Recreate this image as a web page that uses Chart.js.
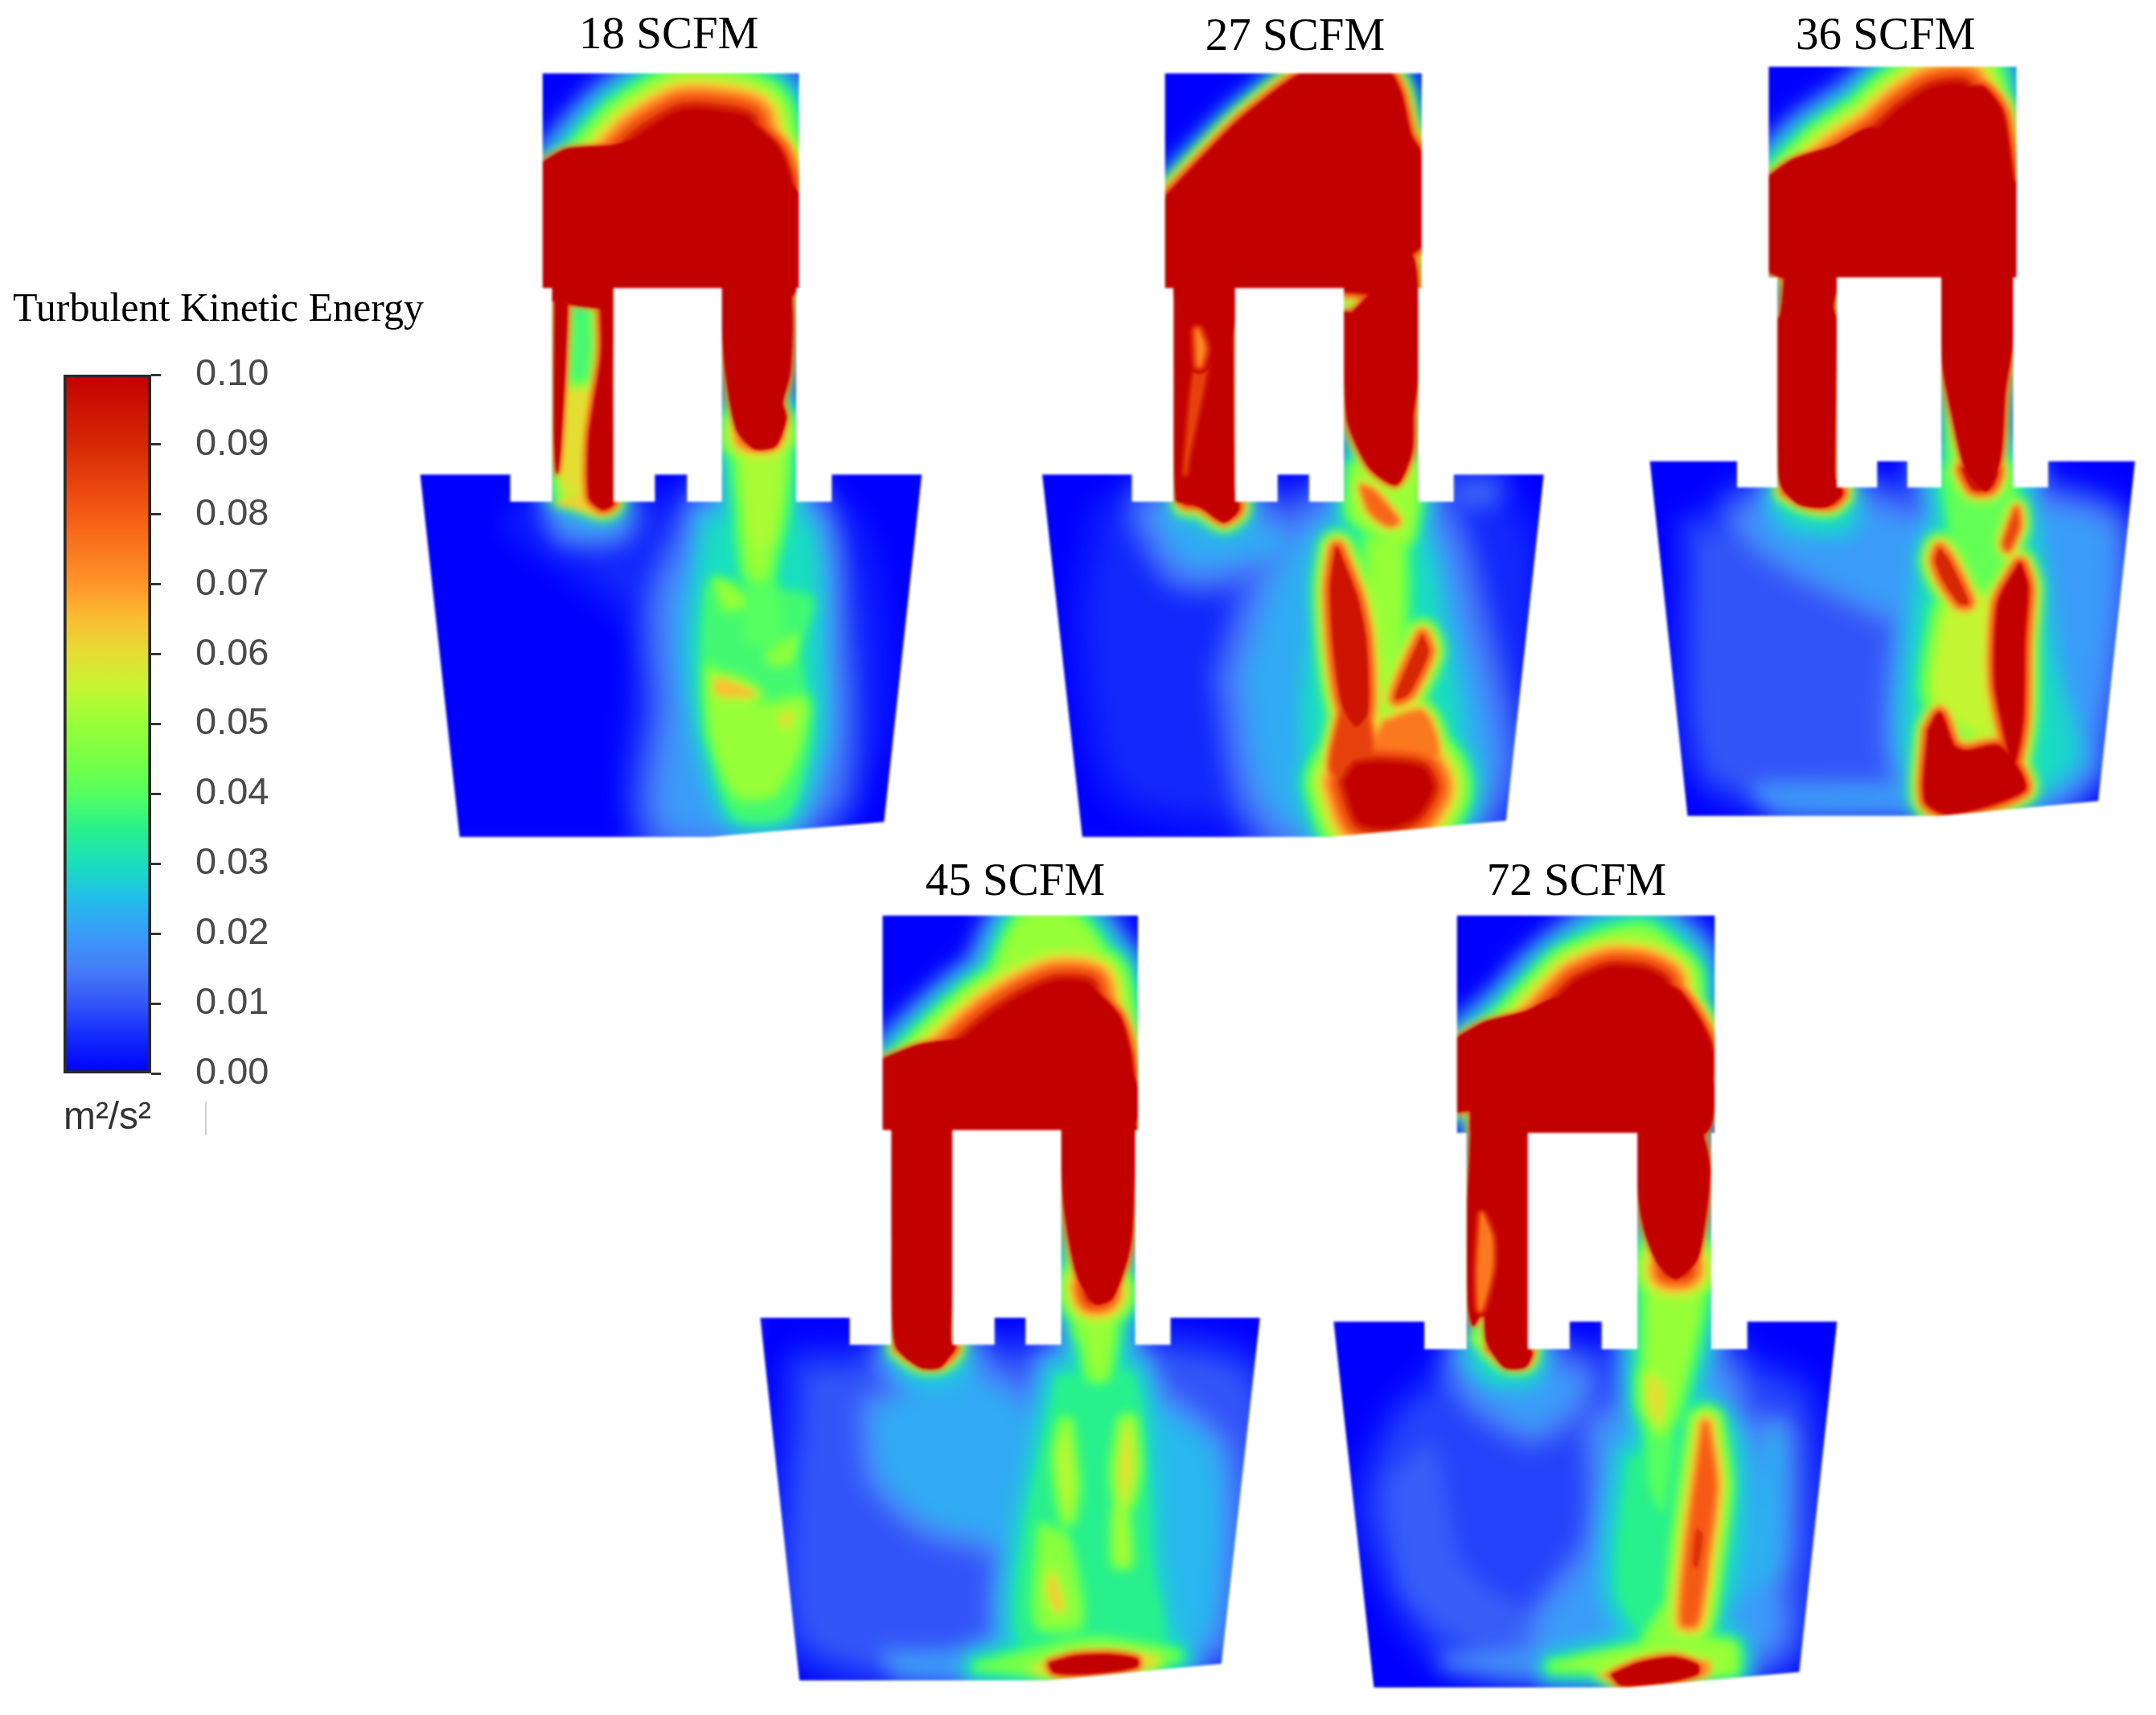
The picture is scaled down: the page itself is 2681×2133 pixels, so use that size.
<!DOCTYPE html>
<html>
<head>
<meta charset="utf-8">
<title>Turbulent Kinetic Energy</title>
<script src="https://cdn.jsdelivr.net/npm/chart.js@4"></script>
<style>
    body { margin: 0; background: #fff; }
    canvas { position: absolute; }
    #strayLine { position: absolute; left: 255px; top: 1370px; width: 2px; height: 42px; background: #d4d4d4; }
</style>
</head>
<body>
<canvas id="scaleBar" width="543" height="1110" style="left:0;top:340px"></canvas>
<canvas id="panel18" width="680" height="1060" style="left:500px;top:0"></canvas>
<canvas id="panel27" width="680" height="1060" style="left:1270px;top:0"></canvas>
<canvas id="panel36" width="651" height="1040" style="left:2030px;top:0"></canvas>
<canvas id="panel45" width="670" height="1073" style="left:930px;top:1060px"></canvas>
<canvas id="panel72" width="670" height="1073" style="left:1640px;top:1060px"></canvas>
<div id="strayLine"></div>
<script>
// colour scale
const barTicks = [0, 0.01, 0.02, 0.03, 0.04, 0.05, 0.06, 0.07, 0.08, 0.09, 0.10];
const stopValues = [0, 0.005, 0.01, 0.015, 0.02, 0.025, 0.03, 0.035, 0.04, 0.045, 0.05, 0.055, 0.06, 0.065, 0.07, 0.08, 0.09, 0.10];
const stopColors = [
    [0, 0, 255], [18, 40, 252], [50, 85, 248], [70, 125, 248], [58, 155, 248], [35, 190, 235],
    [25, 222, 190], [40, 240, 140], [85, 255, 95], [120, 255, 70], [150, 255, 55], [195, 245, 50],
    [228, 222, 50], [250, 190, 50], [255, 150, 40], [245, 90, 20], [215, 40, 5], [195, 0, 0]
];
const flowRates = ["18 SCFM", "27 SCFM", "36 SCFM", "45 SCFM", "72 SCFM"];

// geometry and fields below are read from the picture, in a 1568 x 1568 frame per panel
// field entry = [peak value, distance in px over which it falls to zero, outline x,y,...]
const domain18 = [403,135, 1138,135, 1138,530, 1130,530, 1130,923, 1232,923, 1232,873, 1490,873, 1382,1512, 880,1540, 165,1540, 52,873, 310,873, 310,923, 430,923, 430,530, 403,530];
const hole18 = [606,530, 917,530, 917,923, 817,923, 817,873, 725,873, 725,923, 606,923];
const field18 = [
    [0.005, 60, [350,960, 1250,960, 1300,1400, 700,1500, 700,1150]],
    [0.02, 70, [900,940, 1130,940, 1190,1100, 1220,1300, 1200,1450, 1100,1510, 770,1510, 790,1300, 780,1100]],
    [0.02, 45, [450,945, 630,945, 610,975, 480,975]],
    [0.03, 60, [880,960, 1150,960, 1190,1200, 1170,1400, 900,1400, 830,1200]],
    [0.038, 50, [870,1080, 1170,1100, 1140,1200, 1170,1350, 1100,1500, 950,1500, 860,1300]],
    [0.05, 45, [880,1230, 1010,1300, 1150,1290, 1130,1380, 1060,1460, 960,1460, 890,1350]],
    [0.05, 35, [900,1070, 945,1080, 980,1110, 930,1120]],
    [0.048, 28, [1050,1200, 1130,1170, 1110,1220, 1050,1220]],
    [0.064, 40, [900,1250, 950,1258, 1010,1278, 950,1280, 900,1275]],
    [0.06, 35, [1085,1315, 1120,1312, 1110,1335, 1085,1335]],
    [0.05, 55, [980,960, 1060,960, 1040,1060, 1000,1060]],
    [0.04, 45, [960,880, 1090,880, 1070,1060, 1090,1180, 980,1180, 1000,1050]],
    [0.052, 55, [965,800, 1085,800, 1060,1000, 1000,1000]],
    [0.062, 12, [440,925, 520,912, 570,950, 500,935]],
    [0.06, 38, [480,720, 530,720, 510,900, 460,900]],
    [0.038, 30, [490,580, 555,580, 560,720, 480,720]],
    [0.1, 12, [440,530, 470,530, 468,640, 455,800, 445,870, 438,800]],
    [0.1, 25, [570,530, 604,530, 600,700, 603,925, 575,935, 540,915, 540,800, 575,650]],
    [0.1, 95, [450,420, 560,335, 670,255, 800,205, 900,205, 1000,225, 1000,500, 600,500]],
    [0.1, 50, [1000,225, 1080,275, 1115,340, 1125,420, 1100,500, 1000,500]],
    [0.1, 8, [395,302, 470,275, 600,268, 700,255, 800,300, 800,545, 470,548, 395,545]],
    [0.1, 5, [395,340, 1115,340, 1115,545, 395,545]],
    [0.1, 10, [917,500, 1128,400, 1115,500, 1118,600, 1110,690, 1090,740, 1100,770, 1070,820, 1010,825, 960,790, 930,690, 917,590]],
    [0.1, 65, [1000,790, 1045,790, 1045,800, 1000,800]]
];
const dips18 = [];

const domain27 = [412,135, 1148,135, 1148,530, 1138,530, 1138,923, 1240,923, 1240,873, 1498,873, 1390,1510, 880,1540, 175,1540, 60,873, 317,873, 317,923, 436,923, 436,530, 412,530];
const hole27 = [613,530, 925,530, 925,923, 825,923, 825,873, 735,873, 735,923, 613,923];
const field27 = [
    [0.005, 60, [250,950, 1400,950, 1350,1450, 800,1500, 300,1450, 200,1150]],
    [0.012, 40, [1260,895, 1350,895, 1340,920, 1270,920]],
    [0.022, 75, [400,950, 640,960, 750,1000, 650,1020, 480,1030]],
    [0.022, 80, [650,1250, 750,1050, 880,960, 1150,960, 1250,1150, 1330,1400, 1250,1500, 800,1520, 700,1450]],
    [0.03, 60, [880,1000, 1130,980, 1200,1150, 1240,1400, 830,1400]],
    [0.05, 60, [1000,1000, 1080,1000, 1070,1250, 1020,1250]],
    [0.05, 40, [950,860, 1130,860, 1130,930, 1100,1000, 950,950]],
    [0.075, 35, [1040,1330, 1150,1310, 1190,1390, 1000,1400]],
    [0.085, 30, [920,1300, 990,1310, 1000,1420, 890,1420]],
    [0.078, 30, [975,895, 1010,905, 1080,960, 1050,965, 1000,940]],
    [0.095, 40, [905,1010, 960,1100, 985,1180, 990,1310, 960,1335, 925,1300, 900,1200, 890,1080]],
    [0.09, 40, [1150,1170, 1165,1200, 1110,1275, 1075,1285, 1100,1240]],
    [0.1, 85, [930,1440, 960,1410, 1050,1405, 1150,1415, 1175,1450, 1130,1500, 1050,1520, 970,1510]],
    [0.02, 70, [440,950, 650,950, 620,1000, 480,1000]],
    [0.1, 28, [470,925, 520,930, 580,955, 620,935, 600,900, 480,900]],
    [0.1, 10, [440,530, 610,530, 606,620, 610,900, 620,940, 580,960, 520,935, 480,925, 445,920, 440,700]],
    [0.1, 28, [404,370, 500,305, 640,215, 840,125, 1040,125, 1085,170, 1115,250, 1155,295, 1155,445, 1115,470, 1115,540, 925,535, 404,535]],
    [0.1, 16, [925,575, 950,575, 1115,470, 1135,540, 1135,700, 1122,760, 1118,830, 1075,890, 1000,860, 940,780, 928,700]]
];
const dips27 = [
    [0.085, 8, [505,660, 530,660, 520,710, 480,830, 470,870, 490,720]],
    [0.072, 12, [505,610, 522,640, 510,670]]
];

const domain36 = [408,125, 1150,125, 1150,520, 1140,520, 1140,914, 1245,914, 1245,865, 1505,865, 1395,1502, 920,1530, 165,1530, 52,865, 313,865, 313,914, 434,914, 434,520, 408,520];
const hole36 = [612,520, 925,520, 925,914, 823,914, 823,865, 733,865, 733,914, 612,914];
const field36 = [
    [0.01, 50, [200,1000, 850,1130, 850,1450, 250,1450]],
    [0.02, 70, [350,980, 650,960, 850,1000, 850,1150, 600,1090, 430,1030]],
    [0.02, 35, [380,1480, 800,1480, 850,1510, 450,1510]],
    [0.02, 55, [1210,950, 1420,1000, 1350,1400, 1230,1300]],
    [0.028, 60, [1230,1200, 1330,1420, 1200,1480]],
    [0.03, 60, [890,1000, 1160,950, 1230,1150, 1260,1450, 850,1450, 850,1150]],
    [0.042, 55, [930,880, 1130,880, 1120,1100, 1000,1130]],
    [0.045, 20, [935,700, 990,800, 1060,900, 960,900]],
    [0.055, 60, [930,1150, 1060,1120, 1060,1380, 960,1340, 900,1300]],
    [0.09, 38, [920,1030, 945,1050, 1005,1130, 980,1130, 930,1085, 910,1050]],
    [0.085, 30, [1150,955, 1155,985, 1125,1030, 1115,1020]],
    [0.1, 35, [1160,1060, 1180,1100, 1170,1200, 1165,1350, 1140,1430, 1120,1380, 1090,1280, 1100,1130]],
    [0.1, 32, [890,1370, 920,1340, 960,1400, 1000,1410, 1090,1400, 1130,1420, 1170,1480, 950,1525, 880,1500]],
    [0.03, 60, [430,950, 650,950, 640,990, 480,985]],
    [0.1, 28, [460,920, 520,940, 590,945, 625,925, 600,900, 480,900]],
    [0.1, 10, [445,510, 455,520, 445,590, 436,600, 438,880, 450,915, 500,945, 580,950, 625,925, 606,905, 610,600, 600,575, 610,522]],
    [0.1, 12, [400,335, 480,300, 600,275, 720,240, 850,300, 700,522, 400,505]],
    [0.1, 85, [440,400, 600,300, 730,245, 800,205, 900,165, 1000,165, 1000,500, 800,520]],
    [0.1, 35, [1000,165, 1050,165, 1105,210, 1130,300, 1148,400, 1155,520, 1000,520]],
    [0.1, 5, [400,340, 1148,340, 1148,522, 400,505]],
    [0.1, 14, [925,525, 1140,520, 1138,640, 1115,730, 1100,860, 1060,920, 1000,880, 960,780, 930,680]],
    [0.095, 35, [990,880, 1090,880, 1070,915, 1020,915]]
];
const dips36 = [];

const domain45 = [392,115, 1135,115, 1135,505, 1127,505, 1127,895, 1230,895, 1230,846, 1490,846, 1378,1475, 870,1505, 150,1505, 36,846, 296,846, 296,895, 417,895, 417,505, 392,505];
const hole45 = [595,505, 912,505, 912,895, 808,895, 808,846, 718,846, 718,895, 595,895];
const field45 = [
    [0.01, 60, [180,950, 1420,950, 1350,1440, 200,1440]],
    [0.022, 75, [380,1020, 640,960, 800,1030, 850,1300, 700,1240, 530,1210, 400,1130]],
    [0.02, 30, [400,1460, 800,1460, 800,1490, 450,1490]],
    [0.024, 70, [1170,1000, 1350,1100, 1330,1420, 1200,1400]],
    [0.035, 60, [900,950, 1120,950, 1180,1300, 1200,1440, 800,1440, 800,1250]],
    [0.054, 50, [925,1040, 945,1150, 930,1210, 905,1100]],
    [0.06, 50, [1105,1040, 1115,1120, 1095,1180, 1085,1120]],
    [0.052, 45, [1090,1170, 1105,1290, 1075,1290, 1075,1200]],
    [0.062, 45, [885,1310, 915,1370, 900,1380, 875,1340]],
    [0.048, 60, [860,1230, 920,1250, 960,1400, 850,1400]],
    [0.045, 50, [670,1480, 1000,1430, 1250,1460, 1000,1500]],
    [0.06, 28, [820,1485, 900,1462, 1050,1450, 1190,1462, 1190,1478, 1050,1495, 900,1500]],
    [0.1, 22, [880,1475, 950,1463, 1050,1460, 1130,1468, 1130,1478, 1050,1488, 950,1492, 890,1488]],
    [0.025, 60, [430,930, 640,930, 620,970, 480,970]],
    [0.1, 25, [440,900, 500,925, 560,925, 600,900, 560,880]],
    [0.1, 8, [420,505, 590,505, 590,895, 600,900, 560,935, 500,935, 430,895, 420,700]],
    [0.05, 50, [700,250, 800,120, 950,120, 1060,230, 900,240]],
    [0.1, 85, [480,430, 600,355, 700,300, 800,260, 900,235, 1000,245, 1000,480, 740,480]],
    [0.1, 30, [1000,245, 1080,300, 1115,380, 1118,500, 1000,500]],
    [0.1, 10, [385,378, 500,350, 650,335, 760,300, 800,400, 800,508, 385,500]],
    [0.1, 5, [385,400, 1110,400, 1110,508, 385,500]],
    [0.1, 12, [912,505, 1118,480, 1122,620, 1110,720, 1060,810, 1010,820, 960,770, 925,660, 912,560]],
    [0.045, 18, [920,650, 980,780, 1000,900, 950,880]],
    [0.1, 65, [990,790, 1040,800, 1030,810, 1000,810]],
    [0.05, 50, [960,760, 1060,760, 1040,950, 1000,950]]
];
const dips45 = [];

const domain72 = [402,115, 1152,115, 1152,510, 1142,510, 1142,903, 1247,903, 1247,853, 1508,853, 1398,1490, 900,1518, 160,1518, 43,853, 307,853, 307,903, 430,903, 430,510, 402,510];
const hole72 = [608,510, 927,510, 927,903, 823,903, 823,853, 730,853, 730,903, 608,903];
const field72 = [
    [0.008, 50, [1150,930, 1400,1000, 1360,1440, 400,1460, 160,1200, 300,1000, 800,950]],
    [0.011, 40, [200,1150, 330,1080, 420,1300, 700,1400, 800,1320, 820,1420, 500,1450, 260,1350]],
    [0.018, 30, [380,1470, 640,1440, 780,1350, 800,1440, 600,1490]],
    [0.02, 70, [830,1050, 1150,950, 1250,1200, 1300,1430, 650,1430, 830,1250]],
    [0.023, 50, [1320,1050, 1340,1060, 1330,1300, 1250,1350, 1290,1150]],
    [0.035, 70, [900,1100, 1180,1060, 1170,1350, 1000,1450, 870,1350]],
    [0.048, 45, [1000,1380, 1060,1330, 1060,1440, 950,1440]],
    [0.04, 50, [950,940, 1030,1000, 1000,1200, 960,1150]],
    [0.05, 55, [960,760, 1110,760, 1040,1000, 990,1060, 960,1000]],
    [0.06, 50, [960,950, 1000,970, 990,1040, 960,1000]],
    [0.08, 50, [1125,1040, 1150,1150, 1125,1280, 1095,1400, 1060,1400, 1075,1270, 1100,1150]],
    [0.088, 20, [1100,1230, 1115,1240, 1100,1300, 1090,1290]],
    [0.05, 40, [680,1480, 1000,1440, 1200,1440, 1200,1490]],
    [0.07, 20, [820,1495, 1130,1470, 1130,1495, 900,1515]],
    [0.1, 20, [855,1495, 930,1475, 1030,1465, 1100,1478, 1100,1492, 1000,1508, 880,1512]],
    [0.02, 70, [440,960, 740,960, 720,1000, 620,1040, 500,1000]],
    [0.03, 50, [440,920, 640,920, 620,960, 500,960]],
    [0.05, 14, [440,880, 470,870, 460,900]],
    [0.1, 25, [500,900, 550,925, 600,925, 610,900, 520,870]],
    [0.1, 8, [445,480, 608,510, 606,900, 620,910, 600,935, 540,935, 490,890, 480,830, 450,860, 435,820, 433,640, 440,560]],
    [0.048, 55, [640,240, 800,160, 950,140, 1070,210]],
    [0.1, 80, [470,400, 600,330, 700,265, 750,235, 850,210, 950,215, 1010,240, 950,400, 750,400]],
    [0.1, 35, [1010,240, 1050,255, 1110,310, 1145,365, 1130,430, 950,400]],
    [0.1, 10, [395,340, 480,310, 600,290, 700,265, 800,330, 800,515, 450,515, 440,470, 395,470]],
    [0.1, 5, [395,400, 1130,400, 1120,512, 450,512, 440,470, 395,470]],
    [0.1, 10, [925,510, 1130,430, 1118,510, 1130,545, 1138,580, 1125,660, 1100,740, 1040,775, 990,750, 950,690, 930,620]],
    [0.1, 75, [1020,750, 1060,750, 1060,760, 1020,760]]
];
const dips72 = [
    [0.075, 10, [475,660, 500,700, 500,760, 470,830, 465,760]]
];

const panels = [
    { id: "panel18", title: flowRates[0], titleAt: [765, 66], domain: domain18, hole: hole18, field: field18, dips: dips18 },
    { id: "panel27", title: flowRates[1], titleAt: [785, 69], domain: domain27, hole: hole27, field: field27, dips: dips27 },
    { id: "panel36", title: flowRates[2], titleAt: [758, 69], domain: domain36, hole: hole36, field: field36, dips: dips36 },
    { id: "panel45", title: flowRates[3], titleAt: [778, 56], domain: domain45, hole: hole45, field: field45, dips: dips45 },
    { id: "panel72", title: flowRates[4], titleAt: [750, 56], domain: domain72, hole: hole72, field: field72, dips: dips72 }
];

// softening passes: once all contours up to `upTo` are drawn, blur what is there
const softPasses = [{ upTo: 0.03, blur: 10 }, { upTo: 0.06, blur: 5 }, { upTo: 0.085, blur: 3 }];

function colorFor(value) {
    let i = 0;
    while (i < stopValues.length - 2 && value > stopValues[i + 1]) i++;
    const t = Math.min(1, Math.max(0, (value - stopValues[i]) / (stopValues[i + 1] - stopValues[i])));
    const c = stopColors[i].map((a, k) => Math.round(a + (stopColors[i + 1][k] - a) * t));
    return `rgb(${c[0]},${c[1]},${c[2]})`;
}

function toPoints(flat) {
    const pts = [];
    for (let i = 0; i < flat.length; i += 2) pts.push({ x: flat[i], y: flat[i + 1] });
    pts.push({ x: flat[0], y: flat[1] });
    return pts;
}

function layerDataset(pts, value, dist, tension) {
    const color = colorFor(value);
    return {
        data: pts,
        showLine: true,
        fill: "shape",
        backgroundColor: color,
        borderColor: color,
        borderWidth: Math.max(1, dist * 2),
        borderJoinStyle: "round",
        borderCapStyle: "round",
        pointRadius: 0,
        tension: tension,
        clip: false
    };
}

function buildDatasets(panel) {
    // blue ground over the whole frame, the domain is cut out of it at the end
    const sets = [layerDataset(toPoints([0,0, 1568,0, 1568,1568, 0,1568]), 0, 0, 0)];

    // contour layers, lowest first, so the highest value stays on top
    let layers = [];
    panel.field.forEach(([peak, falloff, outline]) => {
        const pts = toPoints(outline);
        for (let level = 0.0025; level < peak - 1e-9; level += level < 0.03 - 1e-9 ? 0.0025 : 0.005) {
            layers.push({ pts, level, dist: falloff * (peak - level) / peak });
        }
        layers.push({ pts, level: peak, dist: 0 });
    });
    layers.sort((a, b) => a.level - b.level);

    const blurAfter = {};
    softPasses.forEach(pass => {
        const count = layers.filter(l => l.level <= pass.upTo + 1e-9).length;
        blurAfter[count] = pass.blur;    // index in sets of the last layer of the pass
    });
    layers.forEach(l => sets.push(layerDataset(l.pts, l.level, l.dist, 0.25)));

    // weaker spots inside the saturated red
    panel.dips.forEach(([low, falloff, outline]) => {
        const pts = toPoints(outline);
        for (let level = 0.1; level > low - 1e-9; level -= 0.0025) {
            sets.push(layerDataset(pts, level, falloff * (level - low) / (0.1 - low), 0.25));
        }
    });

    // chart.js draws dataset 0 last
    panel.blurAt = {};
    Object.keys(blurAfter).forEach(k => { panel.blurAt[sets.length - 1 - k] = blurAfter[k]; });
    return sets.reverse();
}

function tracePath(ctx, flat, x, y) {
    for (let i = 0; i < flat.length; i += 2) {
        const px = x.getPixelForValue(flat[i]);
        const py = y.getPixelForValue(flat[i + 1]);
        if (i === 0) ctx.moveTo(px, py); else ctx.lineTo(px, py);
    }
    ctx.closePath();
}

function blurCanvas(chart, radius) {
    const ctx = chart.ctx;
    ctx.save();
    ctx.filter = `blur(${radius}px)`;
    ctx.globalCompositeOperation = "copy";
    ctx.drawImage(chart.canvas, 0, 0);
    ctx.restore();
}

function drawPanel(panel) {
    const datasets = buildDatasets(panel);
    const panelLook = {
        id: "panelLook",
        afterDatasetDraw(chart, args) {
            if (panel.blurAt[args.index]) blurCanvas(chart, panel.blurAt[args.index]);
        },
        afterDatasetsDraw(chart) {
            const { ctx, scales } = chart;
            // keep only what lies inside the furnace outline
            ctx.save();
            ctx.globalCompositeOperation = "destination-in";
            ctx.beginPath();
            tracePath(ctx, panel.domain, scales.x, scales.y);
            tracePath(ctx, panel.hole, scales.x, scales.y);
            ctx.fillStyle = "#000";
            ctx.fill("evenodd");
            ctx.restore();
            blurCanvas(chart, 1.4);
        },
        afterDraw(chart) {
            const { ctx, scales } = chart;
            ctx.save();
            ctx.font = '57px "Liberation Serif"';
            ctx.fillStyle = "#000";
            ctx.textAlign = "center";
            ctx.textBaseline = "middle";
            ctx.fillText(panel.title, scales.x.getPixelForValue(panel.titleAt[0]), scales.y.getPixelForValue(panel.titleAt[1]));
            ctx.restore();
        }
    };

    new Chart(document.getElementById(panel.id), {
        type: "scatter",
        data: { datasets },
        options: {
            responsive: false,
            animation: false,
            events: [],
            layout: { padding: 0 },
            plugins: { legend: { display: false }, tooltip: { enabled: false } },
            scales: {
                x: { display: false, min: 0, max: 1568 },
                y: { display: false, min: 0, max: 1568, reverse: true }
            }
        },
        plugins: [panelLook]
    });
}

function drawScaleBar() {
    new Chart(document.getElementById("scaleBar"), {
        type: "bar",
        data: {
            labels: [""],
            datasets: [{
                data: [[barTicks[0], barTicks[barTicks.length - 1]]],
                backgroundColor(context) {
                    const { chart } = context;
                    if (!chart.chartArea) return "#00f";
                    const y = chart.scales.y;
                    const grad = chart.ctx.createLinearGradient(0, y.getPixelForValue(0), 0, y.getPixelForValue(0.1));
                    stopValues.forEach(v => grad.addColorStop(v / 0.1, colorFor(v)));
                    return grad;
                },
                borderColor: "#2a2a2a",
                borderWidth: 4,
                borderSkipped: false,
                barPercentage: 1,
                categoryPercentage: 1
            }]
        },
        options: {
            responsive: false,
            animation: false,
            events: [],
            plugins: {
                legend: { display: false },
                tooltip: { enabled: false },
                title: {
                    display: true,
                    text: "Turbulent Kinetic Energy",
                    color: "#000",
                    font: { family: "Liberation Serif", size: 50, weight: "normal" },
                    padding: { top: 16, bottom: 50 }
                }
            },
            scales: {
                x: {
                    grid: { display: false },
                    border: { display: false },
                    ticks: { display: false },
                    title: {
                        display: true,
                        text: "m²/s²",
                        color: "#333",
                        font: { family: "Liberation Sans", size: 48 },
                        padding: { top: 0, bottom: 30 }
                    },
                    afterFit(scale) { scale.height = 115; }
                },
                // empty axis, only keeps the bar away from the left edge
                pad: {
                    type: "linear",
                    position: "left",
                    grid: { display: false },
                    border: { display: false },
                    ticks: { display: false },
                    afterFit(scale) { scale.width = 79; }
                },
                y: {
                    position: "right",
                    min: 0,
                    max: 0.1,
                    grid: { drawOnChartArea: false, tickLength: 12, tickColor: "#333", tickWidth: 3 },
                    border: { display: false },
                    ticks: {
                        stepSize: 0.01,
                        padding: 43,
                        color: "#4a4a4a",
                        font: { family: "Liberation Sans", size: 47 },
                        callback: v => v.toFixed(2)
                    },
                    afterFit(scale) { scale.width = 355; }
                }
            }
        }
    });
}

drawScaleBar();
panels.forEach(drawPanel);
</script>
</body>
</html>
